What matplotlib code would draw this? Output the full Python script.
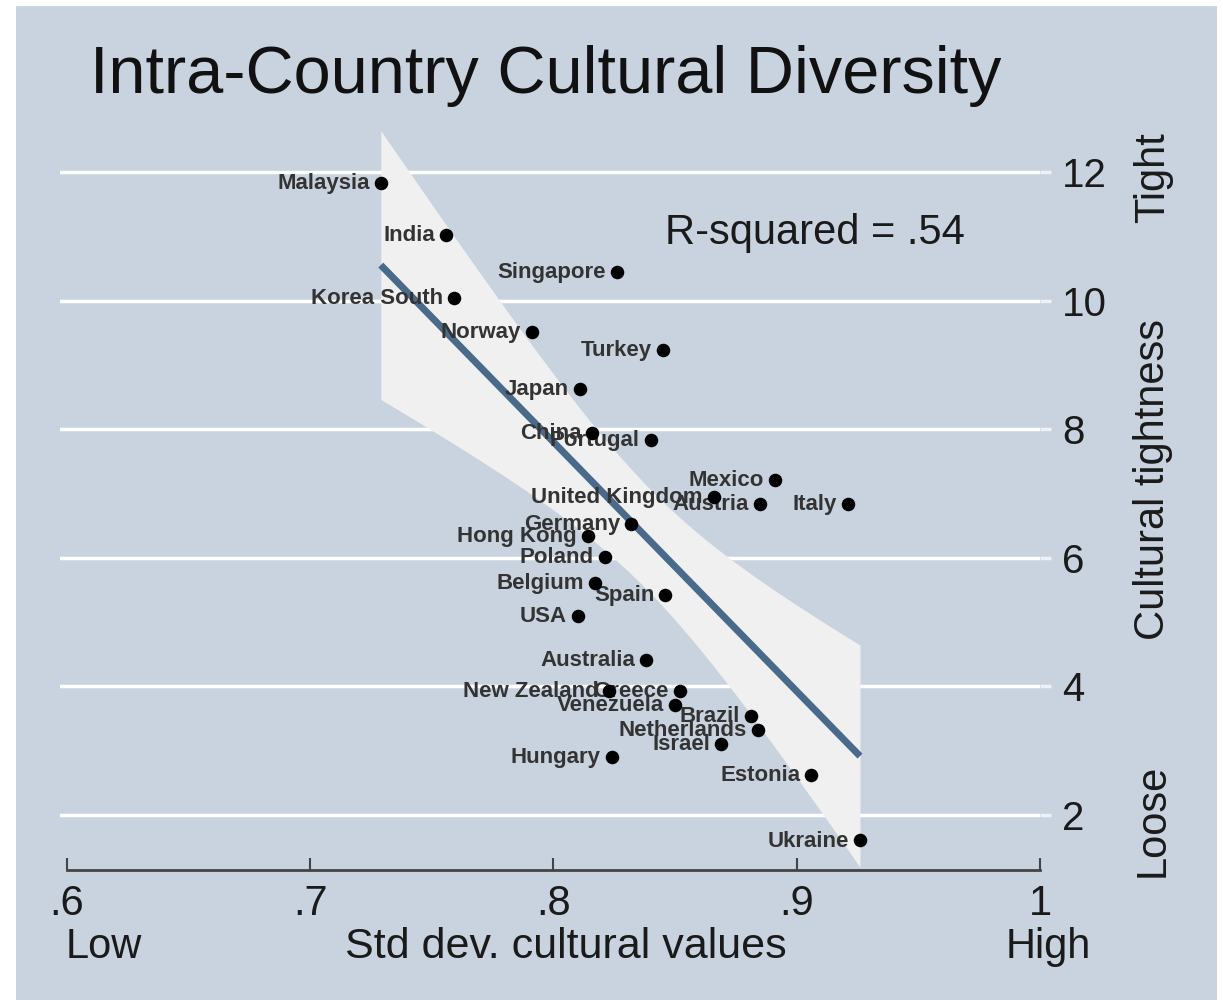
import numpy as np
import matplotlib
matplotlib.use("Agg")
import matplotlib.pyplot as plt
from matplotlib.patches import Rectangle

# ---------------- data ----------------
countries = ["Malaysia", "India", "Singapore", "Korea South", "Norway", "Turkey",
             "Japan", "China", "Portugal", "Mexico", "United Kingdom", "Austria",
             "Italy", "Germany", "Hong Kong", "Poland", "Belgium", "Spain", "USA",
             "Australia", "New Zealand", "Greece", "Venezuela", "Brazil",
             "Netherlands", "Israel", "Hungary", "Estonia", "Ukraine"]
std_dev = [0.729, 0.756, 0.826, 0.759, 0.791, 0.845,
           0.811, 0.816, 0.840, 0.891, 0.866, 0.885,
           0.921, 0.832, 0.814, 0.821, 0.817, 0.846, 0.810,
           0.838, 0.823, 0.852, 0.850, 0.881,
           0.884, 0.869, 0.824, 0.906, 0.926]
tightness = [11.83, 11.02, 10.44, 10.04, 9.51, 9.23,
             8.63, 7.94, 7.83, 7.21, 6.95, 6.84,
             6.84, 6.53, 6.34, 6.01, 5.61, 5.42, 5.09,
             4.41, 3.93, 3.93, 3.71, 3.54,
             3.32, 3.10, 2.90, 2.62, 1.60]
x_ticks = [0.6, 0.7, 0.8, 0.9, 1.0]
x_tick_labels = [".6", ".7", ".8", ".9", "1"]
y_ticks = [2, 4, 6, 8, 10, 12]
y_tick_labels = ["2", "4", "6", "8", "10", "12"]
r2_text = "R-squared = .54"
title = "Intra-Country Cultural Diversity"

# ---------------- styling ----------------
BG = "#c9d3e0"
BAND = "#f0f0f0"
LINE = "#4a6a8b"
SANS = ["Liberation Sans", "Arial", "DejaVu Sans"]
NARROW = ["Liberation Sans Narrow", "Liberation Sans", "DejaVu Sans"]

W, H = 1223, 1000
fig = plt.figure(figsize=(W / 100, H / 100), dpi=100, facecolor="white")
fig.patches.append(Rectangle((16 / W, 0), (1217 - 16) / W, 1 - 6 / H,
                             transform=fig.transFigure, facecolor=BG,
                             edgecolor="none", zorder=-10))

x0_px, x1_px = 59.7, 1040
y_bot_px, y_top_px = 870, 120.6
ax = fig.add_axes([x0_px / W, 1 - y_bot_px / H, (x1_px - x0_px) / W,
                   (y_bot_px - y_top_px) / H])
ax.set_facecolor(BG)
ax.set_xlim(0.597, 1.0)
ax.set_ylim(1.14, 12.8)

x = np.array(std_dev)
y = np.array(tightness)
n = len(x)
b, a = np.polyfit(x, y, 1)
resid = y - (a + b * x)
s = np.sqrt(np.sum(resid ** 2) / (n - 2))
xbar = x.mean()
sxx = np.sum((x - xbar) ** 2)
t_crit = 2.052  # t(27), 97.5%
xg = np.linspace(x.min(), x.max(), 100)
yg = a + b * xg
se = s * np.sqrt(1 / n + (xg - xbar) ** 2 / sxx)

for yt in y_ticks:
    ax.axhline(yt, color="white", lw=2.5, zorder=0)
ax.fill_between(xg, yg - t_crit * se, yg + t_crit * se, color=BAND, lw=0, zorder=1)
ax.plot(xg, yg, color=LINE, lw=5, solid_capstyle="butt", zorder=2)
ax.scatter(x, y, s=95, color="black", zorder=4, linewidths=0)

for name, xi, yi in zip(countries, std_dev, tightness):
    ax.annotate(name, (xi, yi), xytext=(-8, -0.5), textcoords="offset points",
                ha="right", va="center", fontsize=16, color="#333333",
                fontweight="bold", family=SANS, zorder=3)

ax.text(0.846, 11.05, r2_text, ha="left", va="center", fontsize=30,
        family=SANS, color="#1a1a1a")

# axes styling
for sp in ["top", "left", "right"]:
    ax.spines[sp].set_visible(False)
ax.spines["bottom"].set_bounds(0.6, 1.0)
ax.spines["bottom"].set_color("#444444")
ax.spines["bottom"].set_linewidth(2)
ax.set_xticks(x_ticks)
ax.set_xticklabels(x_tick_labels, family=NARROW, fontsize=30, color="#1a1a1a")
ax.tick_params(axis="x", direction="in", length=9, width=1.5, color="#444444", pad=10)
ax.yaxis.tick_right()
ax.set_yticks(y_ticks)
ax.set_yticklabels(y_tick_labels, family=SANS, fontsize=29, color="#1a1a1a")
ax.tick_params(axis="y", direction="out", length=8, width=2.5, color="#eef1f5", pad=8)

# axis titles
fig.text(66 / W, 1 - 947 / H, "Low", family=NARROW, fontsize=30, ha="left",
         va="center", color="#1a1a1a")
fig.text(566 / W, 1 - 947 / H, "Std dev. cultural values", family=NARROW,
         fontsize=31, ha="center", va="center", color="#1a1a1a")
fig.text(1048 / W, 1 - 947 / H, "High", family=NARROW, fontsize=30, ha="center",
         va="center", color="#1a1a1a")
fig.text(1153 / W, 1 - 178 / H, "Tight", family=NARROW, fontsize=30, ha="center",
         va="center", rotation=90, color="#1a1a1a")
fig.text(1153 / W, 1 - 480 / H, "Cultural tightness", family=NARROW, fontsize=30,
         ha="center", va="center", rotation=90, color="#1a1a1a")
fig.text(1153 / W, 1 - 820 / H, "Loose", family=NARROW, fontsize=30, ha="center",
         va="center", rotation=90, color="#1a1a1a")

fig.text(90 / W, 1 - 76 / H, title, family=SANS, fontsize=48, ha="left",
         va="center", color="#111111")

fig.savefig("out.png", dpi=100, facecolor="white")
